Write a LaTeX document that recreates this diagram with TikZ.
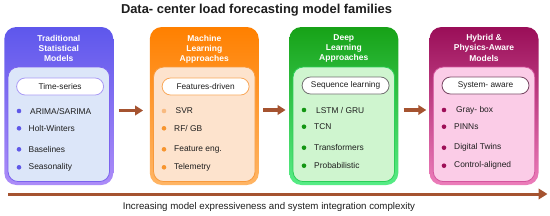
\documentclass[tikz,border=0pt]{standalone}
\usepackage{fontspec}
\setmainfont{Liberation Sans}
\usetikzlibrary{arrows.meta}
\definecolor{pTop}{HTML}{5E57EC}
\definecolor{pBot}{HTML}{AC8CF8}
\definecolor{pFill}{HTML}{DCE6F9}
\definecolor{pLine}{HTML}{7B63EE}
\definecolor{pPill}{HTML}{A99AF5}
\definecolor{pDot}{HTML}{5F58E8}
\definecolor{oTop}{HTML}{FF8000}
\definecolor{oBot}{HTML}{FFB565}
\definecolor{oFill}{HTML}{FDE3CD}
\definecolor{oLine}{HTML}{F89A3C}
\definecolor{oPill}{HTML}{F9A85A}
\definecolor{oDot}{HTML}{F7952F}
\definecolor{oDotL}{HTML}{F8BA80}
\definecolor{gTop}{HTML}{17A217}
\definecolor{gBot}{HTML}{56EC86}
\definecolor{gFill}{HTML}{CFF5CF}
\definecolor{gLine}{HTML}{2CCF58}
\definecolor{gPill}{HTML}{707070}
\definecolor{gDot}{HTML}{139613}
\definecolor{mTop}{HTML}{9A0E58}
\definecolor{mBot}{HTML}{EC7DBA}
\definecolor{mFill}{HTML}{FBCCE7}
\definecolor{mLine}{HTML}{D4559E}
\definecolor{mPill}{HTML}{7A4A66}
\definecolor{mDot}{HTML}{9E0F58}
\definecolor{brn}{HTML}{A55330}
\definecolor{ink}{HTML}{1E1E1E}
\tikzset{
  card/.style={rounded corners=12pt, minimum width=109pt, minimum height=158pt, inner sep=0pt, draw=none},
  panel/.style={rounded corners=10pt, minimum width=101.5pt, minimum height=114.5pt, inner sep=0pt, line width=0.8pt},
  pill/.style={rounded corners=8.5pt, minimum width=87pt, minimum height=17pt, inner sep=0pt, fill=white, line width=0.8pt, text=ink, font=\fontsize{8.3}{10}\selectfont},
  head/.style={text=white, align=center, inner sep=0pt, font=\bfseries\fontsize{8.5}{10.3}\selectfont},
  item/.style={anchor=west, inner sep=0pt, text=ink, font=\fontsize{8.4}{10}\selectfont},
  dot/.style={circle, inner sep=0pt, minimum size=4.6pt, draw=none},
  arr/.style={draw=brn, line width=3.3pt, -{Triangle[length=8pt,width=9.5pt]}},
  longarr/.style={draw=brn, line width=3pt, -{Triangle[length=9pt,width=10.5pt]}}
}
\begin{document}
\begin{tikzpicture}[x=1pt,y=-1pt]
\useasboundingbox (0,0) rectangle (550,215);
\fill[white] (0,0) rectangle (550,215);
% title
\node[anchor=base, inner sep=0pt, text=ink, font=\bfseries\fontsize{12.9}{15}\selectfont] (title) at (256.5,13.8) {Data- center load forecasting model families};
% cards
\node[card, top color=pTop, bottom color=pBot] (c1) at (58.8,106) {};
\node[card, top color=oTop, bottom color=oBot] (c2) at (204.3,106) {};
\node[card, top color=gTop, bottom color=gBot] (c3) at (343.8,106) {};
\node[card, top color=mTop, bottom color=mBot] (c4) at (484,106) {};
% panels
\node[panel, fill=pFill, draw=pLine] (p1) at (58.8,124.3) {};
\node[panel, fill=oFill, draw=oLine] (p2) at (204.3,124.3) {};
\node[panel, fill=gFill, draw=gLine] (p3) at (343.8,124.3) {};
\node[panel, fill=mFill, draw=mLine] (p4) at (484,124.3) {};
% headers
\node[head] (h1) at (58.8,48.6) {Traditional\\Statistical\\Models};
\node[head] (h2) at (204.3,49.2) {Machine\\Learning\\Approaches};
\node[head] (h3) at (343.8,48.4) {Deep\\Learning\\Approaches};
\node[head] (h4) at (484,47.8) {Hybrid \&\\Physics-Aware\\Models};
% pills
\node[pill, draw=pPill] (s1) at (60.1,86.5) {Time-series};
\node[pill, draw=oPill] (s2) at (205.6,86.5) {Features-driven};
\node[pill, draw=gPill] (s3) at (345.6,85.5) {Sequence learning};
\node[pill, draw=mPill] (s4) at (485.5,85.5) {System- aware};
% card 1 items
\node[dot, fill=pDot] (d11) at (19,111) {};
\node[dot, fill=pDot] (d12) at (19,128.3) {};
\node[dot, fill=pDot] (d13) at (19,149.3) {};
\node[dot, fill=pDot] (d14) at (19,167.3) {};
\node[item] (t11) at (30,111) {ARIMA/SARIMA};
\node[item] (t12) at (28.5,128.3) {Holt-Winters};
\node[item] (t13) at (28.5,149.3) {Baselines};
\node[item] (t14) at (28.5,167.3) {Seasonality};
% card 2 items
\node[dot, fill=oDotL] (d21) at (164,111) {};
\node[dot, fill=oDot] (d22) at (164,128.3) {};
\node[dot, fill=oDot] (d23) at (164,149.3) {};
\node[dot, fill=oDot] (d24) at (164,167.3) {};
\node[item] (t21) at (175.5,111) {SVR};
\node[item] (t22) at (174,128.3) {RF/ GB};
\node[item] (t23) at (174,149.3) {Feature eng.};
\node[item] (t24) at (174,167.3) {Telemetry};
% card 3 items
\node[dot, fill=gDot] (d31) at (304,110) {};
\node[dot, fill=gDot] (d32) at (304,126.7) {};
\node[dot, fill=gDot] (d33) at (304,147.7) {};
\node[dot, fill=gDot] (d34) at (304,165.7) {};
\node[item] (t31) at (316,110) {LSTM / GRU};
\node[item] (t32) at (314,126.7) {TCN};
\node[item] (t33) at (314,147.7) {Transformers};
\node[item] (t34) at (314,165.7) {Probabilistic};
% card 4 items
\node[dot, fill=mDot] (d41) at (444,110) {};
\node[dot, fill=mDot] (d42) at (444,126.7) {};
\node[dot, fill=mDot] (d43) at (444,147.7) {};
\node[dot, fill=mDot] (d44) at (444,165.7) {};
\node[item] (t41) at (456,110) {Gray- box};
\node[item] (t42) at (454,126.7) {PINNs};
\node[item] (t43) at (454,147.7) {Digital Twins};
\node[item] (t44) at (454,165.7) {Control-aligned};
% arrows between cards
\draw[arr] ([shift={(5.5,4.5)}]c1.east) -- ([shift={(-6.5,4.5)}]c2.west);
\draw[arr] ([shift={(4,4)}]c2.east) -- ([shift={(-3.5,4)}]c3.west);
\draw[arr] ([shift={(5,4)}]c3.east) -- ([shift={(-3,4)}]c4.west);
% bottom axis
\coordinate (ls) at (8,194);
\coordinate (le) at (547.5,194);
\draw[longarr] (ls) -- (le);
\node[anchor=base, inner sep=0pt, text=ink, font=\fontsize{9.7}{11}\selectfont] (axis) at (269,209.5) {Increasing model expressiveness and system integration complexity};
\end{tikzpicture}
\end{document}
